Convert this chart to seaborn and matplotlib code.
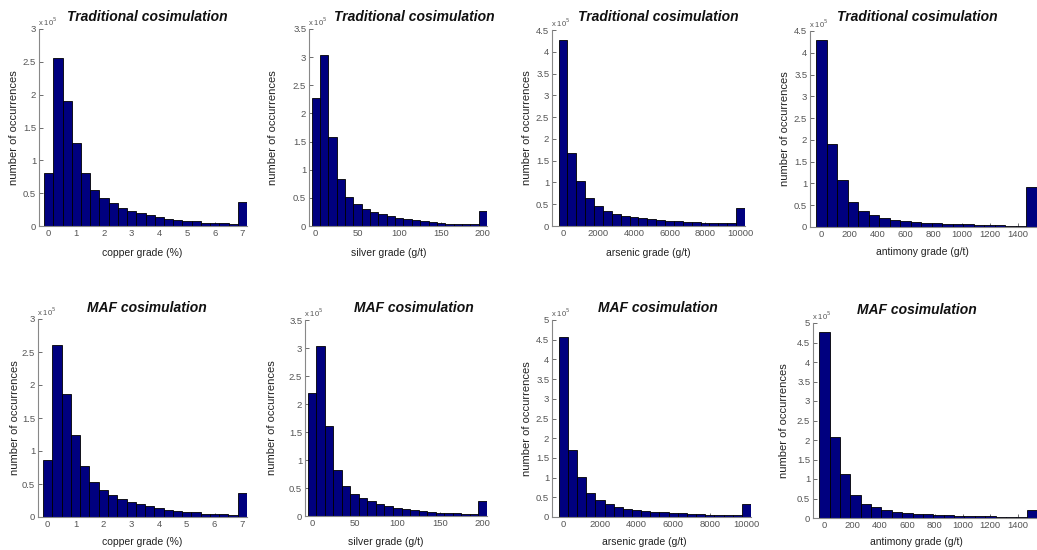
import numpy as np
import pandas as pd
import matplotlib
matplotlib.use("Agg")
import matplotlib.pyplot as plt
import seaborn as sns

# ---------------- data (counts in units of 10^5) ----------------
copper_centers = np.arange(22) / 3.0
silver_centers = np.arange(21) * 10.0
arsenic_centers = np.arange(21) * 500.0
antimony_centers = np.arange(21) * 75.0

trad_copper = [0.80, 2.56, 1.90, 1.27, 0.80, 0.55, 0.42, 0.35, 0.28, 0.23, 0.20,
               0.16, 0.13, 0.11, 0.09, 0.08, 0.07, 0.05, 0.05, 0.04, 0.03, 0.36]
trad_silver = [2.28, 3.03, 1.58, 0.83, 0.52, 0.39, 0.31, 0.25, 0.21, 0.18, 0.15,
               0.12, 0.10, 0.09, 0.07, 0.05, 0.04, 0.04, 0.03, 0.03, 0.26]
trad_arsenic = [4.27, 1.67, 1.03, 0.65, 0.45, 0.35, 0.28, 0.24, 0.20, 0.18, 0.15,
                0.14, 0.12, 0.11, 0.10, 0.09, 0.08, 0.07, 0.06, 0.06, 0.42]
trad_antimony = [4.30, 1.90, 1.08, 0.57, 0.36, 0.27, 0.20, 0.17, 0.14, 0.12, 0.10,
                 0.09, 0.08, 0.07, 0.06, 0.05, 0.05, 0.04, 0.03, 0.03, 0.92]

maf_copper = [0.87, 2.60, 1.87, 1.25, 0.77, 0.53, 0.41, 0.34, 0.27, 0.23, 0.19,
              0.16, 0.13, 0.11, 0.09, 0.08, 0.07, 0.05, 0.05, 0.04, 0.03, 0.37]
maf_silver = [2.20, 3.03, 1.60, 0.83, 0.54, 0.40, 0.32, 0.26, 0.22, 0.18, 0.15,
              0.13, 0.11, 0.09, 0.08, 0.06, 0.05, 0.05, 0.04, 0.04, 0.27]
maf_arsenic = [4.58, 1.70, 1.02, 0.62, 0.42, 0.32, 0.25, 0.20, 0.17, 0.15, 0.13,
               0.12, 0.10, 0.09, 0.08, 0.07, 0.06, 0.05, 0.04, 0.04, 0.33]
maf_antimony = [4.78, 2.07, 1.13, 0.58, 0.37, 0.27, 0.20, 0.16, 0.13, 0.11, 0.10,
                0.08, 0.07, 0.06, 0.05, 0.05, 0.04, 0.03, 0.03, 0.03, 0.21]

titles = ["Traditional cosimulation", "MAF cosimulation"]
xlabels = ["copper grade (%)", "silver grade (g/t)", "arsenic grade (g/t)", "antimony grade (g/t)"]
ylabel = "number of occurrences"

x_ticks = [list(range(0, 8)), [0, 50, 100, 150, 200],
           [0, 2000, 4000, 6000, 8000, 10000], list(range(0, 1401, 200))]

# ---------------- layout ----------------
W, H = 1037, 550
sns.set_theme(style="white")
plt.rcParams['font.family'] = ['Liberation Sans', 'DejaVu Sans']
fig = plt.figure(figsize=(W / 100, H / 100), dpi=100)

# axes boxes in pixels: left, top, right, bottom
boxes = [
    [(39, 29, 247, 226), (309, 29, 487, 226), (552, 30, 745, 226), (810, 31, 1037, 227)],
    [(38, 319, 247, 517), (305, 320, 487, 516), (552, 320, 751, 517), (813, 323, 1037, 518)],
]
xlims = [(-0.35, 7 + 1 / 6), (-8, 205), (-620, 10250), (-82, 1537.5)]
ylims = [[3, 3.5, 4.5, 4.5], [3, 3.5, 5, 5]]
title_pos = [[(147, 17), (414, 17), (658, 17), (917, 17)],
             [(147, 308), (414, 308), (658, 308), (917, 310)]]
xlabel_pos = [[(142, 253), (389, 253), (648, 253), (922, 252)],
              [(142, 542), (386, 542), (644, 542), (916, 542)]]
ylabel_x = [[14, 273, 527, 785], [15, 272, 527, 784]]

rows = [
    [(copper_centers, trad_copper), (silver_centers, trad_silver),
     (arsenic_centers, trad_arsenic), (antimony_centers, trad_antimony)],
    [(copper_centers, maf_copper), (silver_centers, maf_silver),
     (arsenic_centers, maf_arsenic), (antimony_centers, maf_antimony)],
]

grey = "#555555"
for r in range(2):
    for c in range(4):
        l, t, rr, b = boxes[r][c]
        ax = fig.add_axes([l / W, 1 - b / H, (rr - l) / W, (b - t) / H])
        centers, counts = rows[r][c]
        centers = np.asarray(centers, dtype=float)
        step = centers[1] - centers[0]
        edges = [float(e) for e in np.concatenate([centers - step / 2, [centers[-1] + step / 2]])]
        df = pd.DataFrame({"grade": centers, "count": counts})
        sns.histplot(data=df, x="grade", weights="count", bins=edges, ax=ax,
                     color="#00007f", edgecolor="black", linewidth=0.6, alpha=1.0)
        ax.set_xlim(*xlims[c])
        ymax = ylims[r][c]
        ax.set_ylim(0, ymax)
        ax.set_yticks(np.arange(0, ymax + 0.01, 0.5))
        ax.set_yticklabels([f"{v:g}" for v in np.arange(0, ymax + 0.01, 0.5)])
        ax.set_xticks(x_ticks[c])
        ax.tick_params(axis="both", direction="in", length=3, width=0.6,
                       labelsize=6.8, labelcolor=grey, colors=grey,
                       left=True, bottom=True)
        ax.tick_params(axis="x", pad=2)
        ax.tick_params(axis="y", pad=2)
        for s in ["top", "right"]:
            ax.spines[s].set_visible(False)
        for s in ["left", "bottom"]:
            ax.spines[s].set_color("#888888")
            ax.spines[s].set_linewidth(0.8)
        ax.set_xlabel("")
        ax.set_ylabel("")
        # axis labels at measured positions
        xx, xy = xlabel_pos[r][c]
        fig.text(xx / W, 1 - xy / H, xlabels[c], fontsize=7.5, color="#222222",
                 ha="center", va="center")
        fig.text(ylabel_x[r][c] / W, 1 - ((t + b) / 2) / H, ylabel, fontsize=8,
                 color="#222222", ha="center", va="center", rotation=90)
        ax.text(-0.005, 1.005, r"x 10$^5$", transform=ax.transAxes, fontsize=5.5,
                color=grey, va="bottom", ha="left")
        tx, ty = title_pos[r][c]
        fig.text(tx / W, 1 - ty / H, titles[r], fontsize=10, fontweight="bold",
                 fontstyle="italic", ha="center", va="center", color="#111111")

fig.savefig("out.png", dpi=100)
